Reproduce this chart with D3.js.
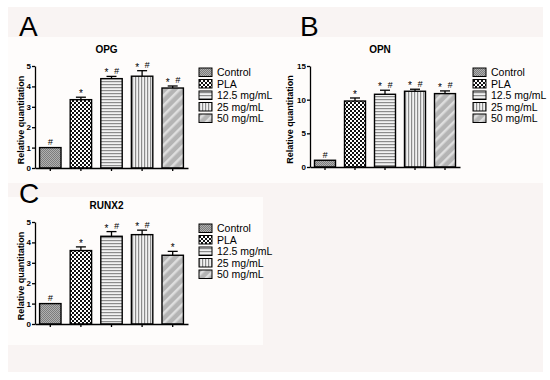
<!DOCTYPE html>
<html>
<head>
<meta charset="utf-8">
<script src="https://cdn.jsdelivr.net/npm/d3@7"></script>
<style>
  body { margin: 0; background: #fff; }
  svg { display: block; font-family: "Liberation Sans", Arial, sans-serif; }
</style>
</head>
<body>
<div id="chart"></div>
<script>
const groups = ['Control', 'PLA', '12.5 mg/mL', '25 mg/mL', '50 mg/mL'];

const opgMean = [1.0, 3.35, 4.38, 4.5, 3.92];
const opgErr = [0, 0.12, 0.11, 0.27, 0.1];
const opgMarks = ['#', '*', '* #', '* #', '* #'];
const opgTicks = [0, 1, 2, 3, 4, 5];

const opnMean = [1.0, 9.8, 10.8, 11.25, 10.9];
const opnErr = [0, 0.45, 0.6, 0.3, 0.4];
const opnMarks = ['#', '*', '* #', '* #', '* #'];
const opnTicks = [0, 5, 10, 15];

const runxMean = [1.0, 3.6, 4.3, 4.38, 3.37];
const runxErr = [0, 0.18, 0.23, 0.22, 0.19];
const runxMarks = ['#', '*', '* #', '* #', '*'];
const runxTicks = [0, 1, 2, 3, 4, 5];

const svg = d3.select('#chart').append('svg')
  .attr('width', 550)
  .attr('height', 380);

// background panels
svg.append('rect').attr('x', 8).attr('y', 7).attr('width', 535).attr('height', 365).attr('fill', '#f9f4f3');
svg.append('rect').attr('x', 8).attr('y', 37).attr('width', 535).attr('height', 146).attr('fill', '#fefcfb');
svg.append('rect').attr('x', 8).attr('y', 197).attr('width', 255).attr('height', 148).attr('fill', '#fefcfb');

// fill patterns
const defs = svg.append('defs');

const pCtrl = defs.append('pattern').attr('id', 'p0')
  .attr('width', 2).attr('height', 2).attr('patternUnits', 'userSpaceOnUse');
pCtrl.append('rect').attr('width', 2).attr('height', 2).attr('fill', '#b0b0b0');
pCtrl.append('rect').attr('width', 1).attr('height', 1).attr('fill', '#7c7c7c');
pCtrl.append('rect').attr('x', 1).attr('y', 1).attr('width', 1).attr('height', 1).attr('fill', '#7c7c7c');

const pPla = defs.append('pattern').attr('id', 'p1')
  .attr('width', 4).attr('height', 4).attr('patternUnits', 'userSpaceOnUse');
pPla.append('rect').attr('width', 4).attr('height', 4).attr('fill', '#fff');
pPla.append('rect').attr('width', 2).attr('height', 2).attr('fill', '#111');
pPla.append('rect').attr('x', 2).attr('y', 2).attr('width', 2).attr('height', 2).attr('fill', '#111');

const pH = defs.append('pattern').attr('id', 'p2')
  .attr('width', 4).attr('height', 3).attr('patternUnits', 'userSpaceOnUse');
pH.append('rect').attr('width', 4).attr('height', 3).attr('fill', '#f2f2f2');
pH.append('rect').attr('width', 4).attr('height', 1.2).attr('fill', '#8c8c8c');

const pV = defs.append('pattern').attr('id', 'p3')
  .attr('width', 3).attr('height', 4).attr('patternUnits', 'userSpaceOnUse');
pV.append('rect').attr('width', 3).attr('height', 4).attr('fill', '#f2f2f2');
pV.append('rect').attr('width', 1.2).attr('height', 4).attr('fill', '#8c8c8c');

const pD = defs.append('pattern').attr('id', 'p4')
  .attr('width', 7).attr('height', 7).attr('patternUnits', 'userSpaceOnUse')
  .attr('patternTransform', 'rotate(45)');
pD.append('rect').attr('width', 7).attr('height', 7).attr('fill', '#b4b4b4');
pD.append('rect').attr('width', 2.5).attr('height', 7).attr('fill', '#dedede');

const fills = ['url(#p0)', 'url(#p1)', 'url(#p2)', 'url(#p3)', 'url(#p4)'];

function drawPanel(opts) {
  const { letter, letterX, letterY, title, mean, err, marks, ticks,
    x0, x1, yBottom, yTop, legendX, labelOff } = opts;

  svg.append('text')
    .attr('x', letterX).attr('y', letterY)
    .attr('font-size', 28)
    .text(letter);

  const x = d3.scaleBand().domain(groups).range([x0, x1])
    .paddingInner(0.3).paddingOuter(0.15);
  const y = d3.scaleLinear().domain([0, ticks[ticks.length - 1]]).range([yBottom, yTop]);

  const g = svg.append('g');

  g.append('text')
    .attr('x', (x0 + x1) / 2 - 5).attr('y', yTop - 13)
    .attr('text-anchor', 'middle')
    .attr('font-size', 10).attr('font-weight', 'bold')
    .text(title);

  g.append('text')
    .attr('transform', `translate(${x0 - labelOff},${(yBottom + yTop) / 2 + 3}) rotate(-90)`)
    .attr('text-anchor', 'middle')
    .attr('font-size', 9).attr('font-weight', 'bold')
    .text('Relative quantitation');

  g.selectAll('.bar')
    .data(groups)
    .join('rect')
    .attr('x', d => x(d))
    .attr('y', (d, i) => y(mean[i]))
    .attr('width', x.bandwidth())
    .attr('height', (d, i) => y(0) - y(mean[i]))
    .attr('fill', (d, i) => fills[i])
    .attr('stroke', '#000')
    .attr('stroke-width', 1.4);

  // error bars (upper only)
  groups.forEach((d, i) => {
    if (!err[i]) return;
    const cx = x(d) + x.bandwidth() / 2;
    g.append('line')
      .attr('x1', cx).attr('x2', cx)
      .attr('y1', y(mean[i])).attr('y2', y(mean[i] + err[i]))
      .attr('stroke', '#000').attr('stroke-width', 1.3);
    g.append('line')
      .attr('x1', cx - 5).attr('x2', cx + 5)
      .attr('y1', y(mean[i] + err[i])).attr('y2', y(mean[i] + err[i]))
      .attr('stroke', '#000').attr('stroke-width', 1.3);
  });

  // significance marks
  groups.forEach((d, i) => {
    const cx = x(d) + x.bandwidth() / 2;
    const top = y(mean[i] + err[i]) - 2.5;
    const parts = marks[i].split(' ');
    parts.forEach((m, j) => {
      const off = parts.length === 1 ? 0 : (j === 0 ? -5 : 5);
      g.append('text')
        .attr('x', cx + off).attr('y', m === '*' ? top + 2.5 : top)
        .attr('text-anchor', 'middle')
        .attr('font-size', m === '*' ? 10 : 9)
        .attr('font-style', m === '#' ? 'italic' : null)
        .text(m);
    });
  });

  const yAxis = g.append('g')
    .attr('transform', `translate(${x0},0)`)
    .call(d3.axisLeft(y).tickValues(ticks).tickFormat(d3.format('d'))
      .tickSize(3).tickSizeOuter(0).tickPadding(1));
  yAxis.selectAll('text').attr('font-size', 8).attr('font-weight', 'bold').attr('fill', '#000');

  g.append('g')
    .attr('transform', `translate(0,${yBottom})`)
    .call(d3.axisBottom(x).tickSize(3).tickSizeOuter(0).tickFormat(''));

  g.selectAll('.domain, .tick line').attr('stroke', '#000').attr('stroke-width', 1.3);

  // legend
  const leg = g.append('g').attr('transform', `translate(${legendX},${yTop + 2})`);
  groups.forEach((d, i) => {
    leg.append('rect')
      .attr('x', 0).attr('y', i * 11.5)
      .attr('width', 13).attr('height', 8.5)
      .attr('fill', fills[i])
      .attr('stroke', '#000').attr('stroke-width', 1);
    leg.append('text')
      .attr('x', 18).attr('y', i * 11.5 + 8)
      .attr('font-size', 10.5)
      .text(d);
  });
}

drawPanel({
  letter: 'A', letterX: 19, letterY: 36, title: 'OPG',
  mean: opgMean, err: opgErr, marks: opgMarks, ticks: opgTicks,
  x0: 35, x1: 188, yBottom: 168, yTop: 66, legendX: 199, labelOff: 11
});

drawPanel({
  letter: 'B', letterX: 300, letterY: 36, title: 'OPN',
  mean: opnMean, err: opnErr, marks: opnMarks, ticks: opnTicks,
  x0: 310, x1: 460, yBottom: 167, yTop: 66, legendX: 473, labelOff: 17
});

drawPanel({
  letter: 'C', letterX: 19, letterY: 203, title: 'RUNX2',
  mean: runxMean, err: runxErr, marks: runxMarks, ticks: runxTicks,
  x0: 35, x1: 188, yBottom: 324, yTop: 222, legendX: 199, labelOff: 11
});
</script>
</body>
</html>
